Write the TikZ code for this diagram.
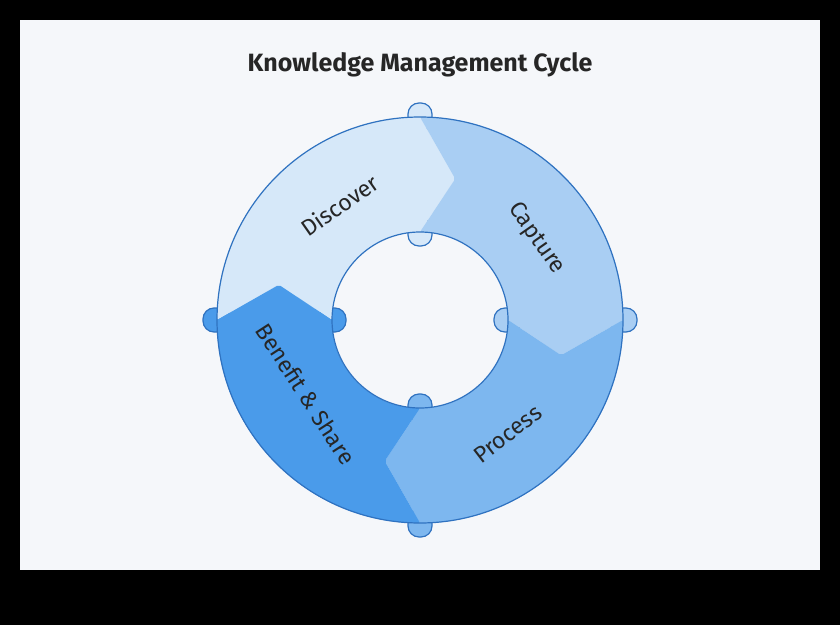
\documentclass[tikz,border=0pt]{standalone}
\usepackage{fontspec}
\setmainfont{Fira Sans}
\begin{document}
\begin{tikzpicture}[x=1pt,y=1pt,
  lbl/.style={font=\fontsize{23}{23}\selectfont, text=black!85},
  tab/.style={rectangle, rounded corners=11pt, minimum width=24pt, minimum height=28pt, draw=strk, line width=1.2pt, inner sep=0pt}]
\definecolor{c1}{HTML}{D6E8F9}
\definecolor{c2}{HTML}{A9CEF3}
\definecolor{c3}{HTML}{7DB7EF}
\definecolor{c4}{HTML}{4A9BEA}
\definecolor{strk}{HTML}{2F72C0}
\definecolor{panel}{HTML}{F5F7FA}
\fill[black] (0,0) rectangle (840,625);
\fill[panel] (20,55) rectangle (820,605);
\node[font=\fontsize{25}{25}\selectfont\bfseries, text=black!85] (title) at (420,560) {Knowledge Management Cycle};
\begin{scope}[shift={(420,305)}]
\def\R{203}\def\r{88}\def\m{145.5}
\foreach \a/\c in {90/c1,0/c2,-90/c3,180/c4}{
  \node[tab, rotate=\a-90, fill=\c] at (\a:\R) {};
  \node[tab, rotate=\a-90, fill=\c] at (\a:\r) {};
}
\foreach \s/\c in {180/c1,90/c2,0/c3,-90/c4}{
  \pgfmathsetmacro\e{\s-90}
  \fill[\c, rounded corners=2pt] (\s:\R) arc[start angle=\s,end angle=\e,radius=\R]
     -- (\e-14:\m) -- (\e:\r) arc[start angle=\e,end angle=\s,radius=\r]
     -- (\s-14:\m) -- cycle;
}
\draw[strk, line width=1.2pt] (0,0) circle[radius=\R];
\draw[strk, line width=1.2pt] (0,0) circle[radius=\r];
\node[lbl, rotate=35] (d) at (125:140) {Discover};
\node[lbl, rotate=-55] (c) at (35:142) {Capture};
\node[lbl, rotate=37.5] (p) at (-52.5:144) {Process};
\node[lbl, rotate=-57] (b) at (-147:136) {Benefit \& Share};
\end{scope}
\end{tikzpicture}
\end{document}
